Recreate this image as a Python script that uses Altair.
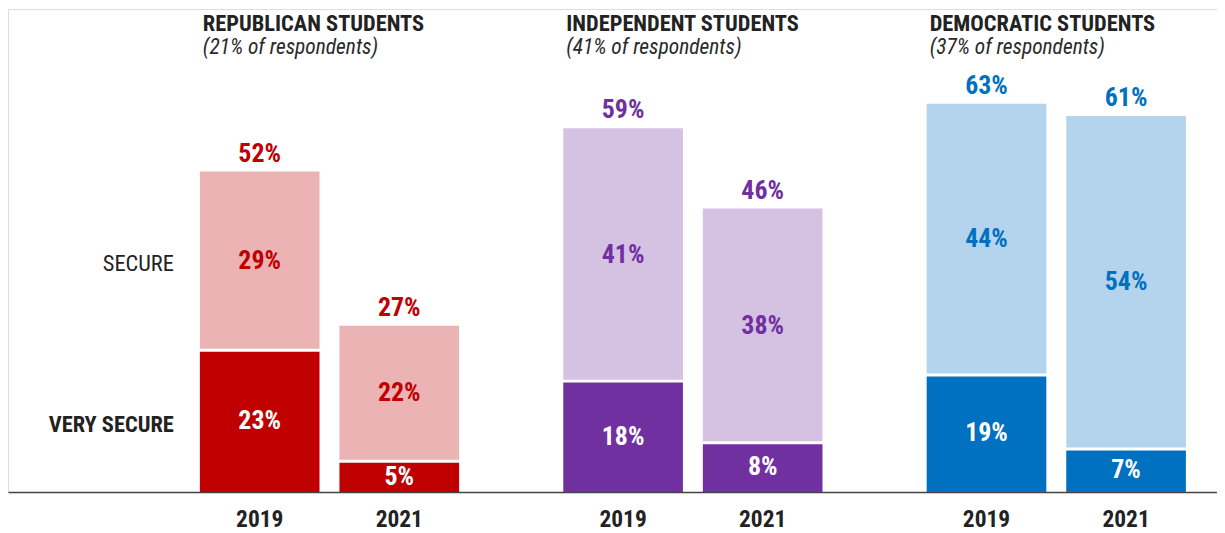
import altair as alt
import pandas as pd

# ---- data ----
parties = ["Republican", "Independent", "Democratic"]
headers = ["REPUBLICAN STUDENTS", "INDEPENDENT STUDENTS", "DEMOCRATIC STUDENTS"]
shares = ["(21% of respondents)", "(41% of respondents)", "(37% of respondents)"]
years = ["2019", "2021"]
very_secure = {"Republican": [23, 5], "Independent": [18, 8], "Democratic": [19, 7]}
secure = {"Republican": [29, 22], "Independent": [41, 38], "Democratic": [44, 54]}
dark_colors = {"Republican": "#C00000", "Independent": "#7030A0", "Democratic": "#0070C0"}
light_colors = {"Republican": "#EBB3B3", "Independent": "#D5C2E3", "Democratic": "#B4D4EE"}
row_labels = ["VERY SECURE", "SECURE"]

FONT = "'Roboto Condensed', 'Liberation Sans Narrow', 'Arial Narrow', Roboto, sans-serif"

# ---- tables ----
seg_rows, bar_rows = [], []
for p in parties:
    for i, yr in enumerate(years):
        vs, s = very_secure[p][i], secure[p][i]
        seg_rows.append(dict(party=p, year=yr, y0=0, y1=vs, mid=vs / 2, label=f"{vs}%",
                             fill=dark_colors[p], tcolor="white"))
        seg_rows.append(dict(party=p, year=yr, y0=vs, y1=vs + s, mid=vs + s / 2, label=f"{s}%",
                             fill=light_colors[p], tcolor=dark_colors[p]))
        bar_rows.append(dict(party=p, year=yr, vs=vs, total=vs + s, tlabel=f"{vs + s}%",
                             tcolor=dark_colors[p]))
seg = pd.DataFrame(seg_rows)
bars_df = pd.DataFrame(bar_rows)
head_df = pd.DataFrame(dict(party=parties, header=headers, share=shares))

# axis label positions: middle of the Republican 2019 segments
r_vs, r_s = very_secure["Republican"][0], secure["Republican"][0]
ylabel_vals = [r_vs / 2, r_vs + r_s / 2]

W, H = 1214, 485
xscale = alt.Scale(domain=parties, paddingInner=0.2867, paddingOuter=0.3068, align=0.8605)
xaxis = alt.Axis(title=None, labels=False, ticks=False, domain=True, domainColor="#444",
                 domainWidth=1.5, grid=False)
yscale = alt.Scale(domain=[0, 78.35], nice=False, zero=True)
yaxis = alt.Axis(title=None, values=ylabel_vals, grid=False, domain=False, ticks=False,
                 labelExpr=f"datum.value < 20 ? '{row_labels[0]}' : '{row_labels[1]}'",
                 labelFontWeight={"condition": {"test": "datum.value < 20", "value": "bold"},
                                  "value": "normal"},
                 labelFont=FONT, labelFontSize=22.5, labelColor="#222", labelPadding=0,
                 labelOffset=3, offset=-166)


def X(**kw):
    return alt.X("party:N", sort=parties, scale=xscale, axis=xaxis, **kw)


XO = alt.XOffset("year:N", sort=years, scale=alt.Scale(paddingInner=0.142857, paddingOuter=0))

bars = alt.Chart(seg).mark_bar().encode(
    x=X(), xOffset=XO,
    y=alt.Y("y0:Q", scale=yscale, axis=yaxis), y2="y1:Q",
    color=alt.Color("fill:N", scale=None),
)

sep = alt.Chart(bars_df).mark_tick(color="white", thickness=3, size=122, opacity=1).encode(
    x=X(), xOffset=XO, y=alt.Y("vs:Q", scale=yscale, axis=yaxis),
)

seg_text = alt.Chart(seg).mark_text(font=FONT, fontSize=26, fontWeight="bold",
                                    baseline="middle", align="center").encode(
    x=X(), xOffset=XO, y=alt.Y("mid:Q", scale=yscale, axis=yaxis),
    text="label:N", color=alt.Color("tcolor:N", scale=None),
)

tot_text = alt.Chart(bars_df).mark_text(font=FONT, fontSize=26, fontWeight="bold",
                                        baseline="alphabetic", align="center", dy=-10).encode(
    x=X(), xOffset=XO, y=alt.Y("total:Q", scale=yscale, axis=yaxis),
    text="tlabel:N", color=alt.Color("tcolor:N", scale=None),
)

year_text = alt.Chart(bars_df).mark_text(font=FONT, fontSize=23.5, fontWeight="bold",
                                         baseline="middle", align="center", color="#222").encode(
    x=X(), xOffset=XO, y=alt.value(H + 28), text="year:N",
)

head_text = alt.Chart(head_df).mark_text(font=FONT, fontSize=22.5, fontWeight="bold",
                                         baseline="middle", align="left", color="#222", dx=3).encode(
    x=X(bandPosition=0), y=alt.value(15), text="header:N",
)

share_text = alt.Chart(head_df).mark_text(font=FONT, fontSize=21.5, fontStyle="italic",
                                          fontWeight="normal", baseline="middle", align="left",
                                          color="#2a2a2a", dx=3).encode(
    x=X(bandPosition=0), y=alt.value(39), text="share:N",
)

chart = alt.layer(bars, sep, seg_text, tot_text, year_text, head_text, share_text).properties(
    width=W, height=H,
    autosize=alt.AutoSizeParams(type="none"),
    padding={"left": 0, "top": 0, "right": 0, "bottom": 40},
).configure_view(stroke=None).configure(background="white")

chart.save("out.html", embed_options={"renderer": "svg", "actions": False})
